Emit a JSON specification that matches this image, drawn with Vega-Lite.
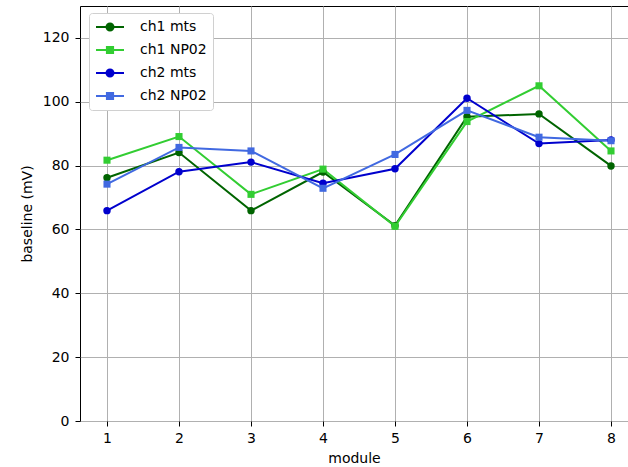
{
  "$schema": "https://vega.github.io/schema/vega-lite/v6.json",
  "width": 548,
  "height": 415,
  "autosize": {"type": "none"},
  "padding": {"left": 80, "top": 6, "right": 0, "bottom": 46},
  "background": "white",
  "config": {
    "font": "DejaVu Sans",
    "view": {"stroke": "black", "strokeWidth": 1},
    "axis": {
      "grid": true, "gridColor": "#b0b0b0", "gridWidth": 1,
      "domain": false, "tickColor": "black", "tickSize": 5, "tickWidth": 1,
      "labelFont": "DejaVu Sans", "labelFontSize": 14, "labelColor": "black",
      "titleFont": "DejaVu Sans", "titleFontSize": 14, "titleFontWeight": "normal", "titleColor": "black"
    }
  },
  "data": {
    "values": [
      {"module": 1, "series": "ch1 mts", "baseline": 76.2},
      {"module": 2, "series": "ch1 mts", "baseline": 84.1},
      {"module": 3, "series": "ch1 mts", "baseline": 65.9},
      {"module": 4, "series": "ch1 mts", "baseline": 78.0},
      {"module": 5, "series": "ch1 mts", "baseline": 61.2},
      {"module": 6, "series": "ch1 mts", "baseline": 95.3},
      {"module": 7, "series": "ch1 mts", "baseline": 96.2},
      {"module": 8, "series": "ch1 mts", "baseline": 79.9},
      {"module": 1, "series": "ch1 NP02", "baseline": 81.7},
      {"module": 2, "series": "ch1 NP02", "baseline": 89.1},
      {"module": 3, "series": "ch1 NP02", "baseline": 71.0},
      {"module": 4, "series": "ch1 NP02", "baseline": 78.9},
      {"module": 5, "series": "ch1 NP02", "baseline": 61.0},
      {"module": 6, "series": "ch1 NP02", "baseline": 93.8},
      {"module": 7, "series": "ch1 NP02", "baseline": 105.0},
      {"module": 8, "series": "ch1 NP02", "baseline": 84.6},
      {"module": 1, "series": "ch2 mts", "baseline": 65.9},
      {"module": 2, "series": "ch2 mts", "baseline": 78.1},
      {"module": 3, "series": "ch2 mts", "baseline": 81.1},
      {"module": 4, "series": "ch2 mts", "baseline": 74.5},
      {"module": 5, "series": "ch2 mts", "baseline": 79.0},
      {"module": 6, "series": "ch2 mts", "baseline": 101.1},
      {"module": 7, "series": "ch2 mts", "baseline": 86.9},
      {"module": 8, "series": "ch2 mts", "baseline": 88.0},
      {"module": 1, "series": "ch2 NP02", "baseline": 74.2},
      {"module": 2, "series": "ch2 NP02", "baseline": 85.7},
      {"module": 3, "series": "ch2 NP02", "baseline": 84.6},
      {"module": 4, "series": "ch2 NP02", "baseline": 72.9},
      {"module": 5, "series": "ch2 NP02", "baseline": 83.5},
      {"module": 6, "series": "ch2 NP02", "baseline": 97.3},
      {"module": 7, "series": "ch2 NP02", "baseline": 88.9},
      {"module": 8, "series": "ch2 NP02", "baseline": 87.8}
    ]
  },
  "encoding": {
    "x": {
      "field": "module", "type": "quantitative",
      "scale": {"domain": [0.625, 8.236], "nice": false, "zero": false},
      "axis": {"values": [1, 2, 3, 4, 5, 6, 7, 8], "title": "module", "titlePadding": 6, "labelPadding": 5}
    },
    "y": {
      "field": "baseline", "type": "quantitative",
      "scale": {"domain": [0, 130], "nice": false},
      "axis": {"values": [0, 20, 40, 60, 80, 100, 120], "title": "baseline (mV)", "titlePadding": 8, "labelPadding": 6}
    },
    "color": {
      "field": "series", "type": "nominal",
      "scale": {
        "domain": ["ch1 mts", "ch1 NP02", "ch2 mts", "ch2 NP02"],
        "range": ["#006400", "#32cd32", "#0000cd", "#4169e1"]
      },
      "legend": {
        "title": null,
        "orient": "none",
        "legendX": 9,
        "legendY": 7,
        "padding": 6,
        "fillColor": "white",
        "strokeColor": "#d0d0d0",
        "cornerRadius": 3,
        "symbolSize": 196,
        "symbolStrokeWidth": 2,
        "labelFont": "DejaVu Sans",
        "labelFontSize": 14,
        "labelColor": "black",
        "labelOffset": 29,
        "rowPadding": 7,
        "symbolOpacity": 1,
        "encode": {
          "symbols": {
            "update": {
              "shape": {"signal": "test(/mts/, datum.value) ? 'M-1,0H3M1.5,0A0.5,0.5,0,1,1,0.5,0A0.5,0.5,0,1,1,1.5,0Z' : 'M-1,0H3M0.56,-0.44H1.44V0.44H0.56Z'"},
              "stroke": {"signal": "scale('color', datum.value)"},
              "fill": {"signal": "scale('color', datum.value)"},
              "strokeWidth": {"value": 2},
              "opacity": {"value": 1}
            }
          }
        }
      }
    }
  },
  "layer": [
    {
      "mark": {"type": "line", "strokeWidth": 2},
      "encoding": {"detail": {"field": "series"}}
    },
    {
      "transform": [{"filter": "indexof(datum.series, 'mts') >= 0"}],
      "mark": {"type": "point", "filled": true, "opacity": 1, "size": 55, "shape": "circle"}
    },
    {
      "transform": [{"filter": "indexof(datum.series, 'NP02') >= 0"}],
      "mark": {"type": "point", "filled": true, "opacity": 1, "size": 50, "shape": "square"}
    }
  ]
}
